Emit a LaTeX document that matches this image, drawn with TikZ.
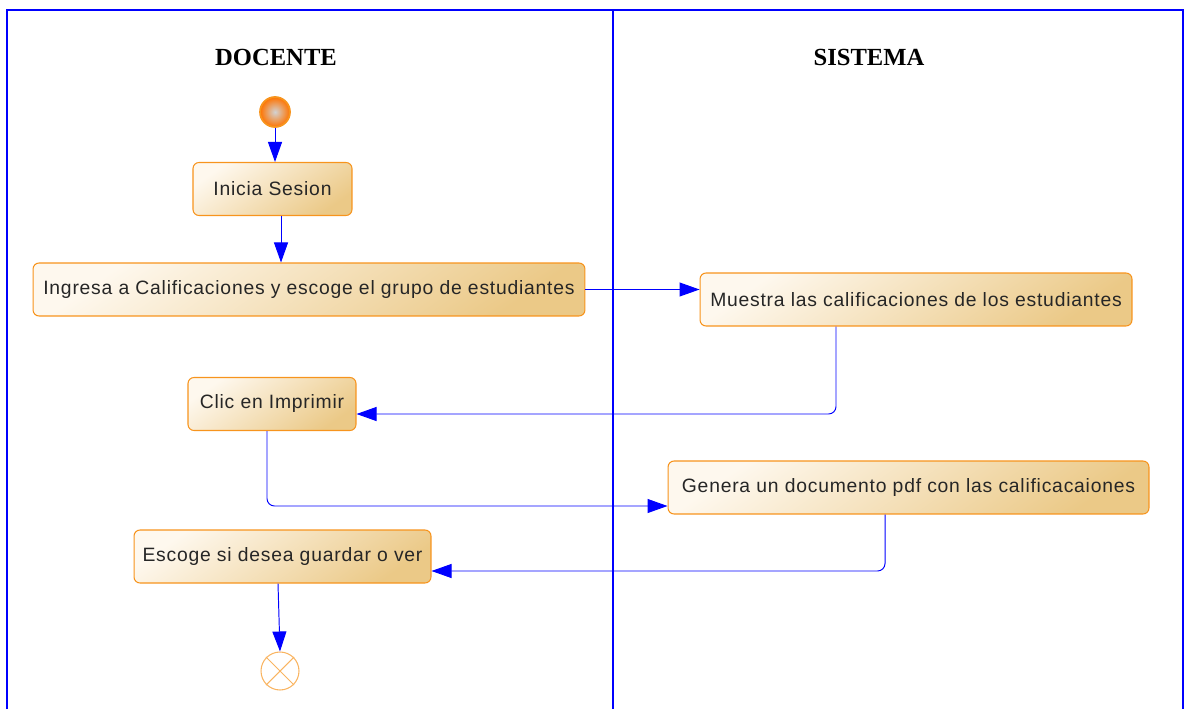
\documentclass[tikz,border=0pt]{standalone}
\usepackage{fontspec}
\setmainfont{Liberation Sans}
\newfontfamily\titlefont{Liberation Serif}
\newfontfamily\actfont[LetterSpace=4]{Liberation Sans}
\usepackage{xcolor}
\usetikzlibrary{arrows.meta,calc,shapes.misc}
\definecolor{laneblue}{HTML}{0000FF}
\definecolor{actborder}{HTML}{F7941D}
\definecolor{actlight}{HTML}{FEF8EE}
\definecolor{actdark}{HTML}{EBC987}

\begin{document}
\begin{tikzpicture}[
    x=0.02cm, y=-0.02cm,
    act/.style={rectangle, rounded corners=0.12cm, draw=actborder, line width=0.6pt,
        top color=actlight, bottom color=actdark, shading angle=35, text=black!85,
        font=\actfont\fontsize{11}{13}\selectfont, minimum height=1.06cm, inner sep=3pt},
    lane/.style={draw=laneblue, line width=0.6pt},
    flow/.style={draw=laneblue, line width=0.55pt, rounded corners=0.15cm,
        -{Triangle[length=0.4cm, width=0.28cm]}},
    title/.style={font=\titlefont\fontsize{14}{16}\selectfont\bfseries}
]
\useasboundingbox (0,0) rectangle (1185,709);

% swimlanes
\draw[lane] (7,709) -- (7,10) -- (1183,10) -- (1183,709);
\draw[lane] (613,10) -- (613,709);
\node[title] (docente) at (276,57) {DOCENTE};
\node[title] (sistema) at (869,57) {SISTEMA};

% start and end
\node[circle, draw=actborder, line width=1pt, inner color=gray!35, outer color=orange!90!red,
    minimum size=0.6cm, inner sep=0pt] (start) at (275,112) {};
\node[circle, cross out, draw=actborder!70, line width=0.6pt, minimum size=0.54cm, inner sep=0pt] (stopx) at (280,671) {};
\node[circle, draw=actborder!70, line width=0.6pt, minimum size=0.76cm, inner sep=0pt] (stop) at (280,671) {};

% activities
\node[act, minimum width=3.18cm] (inicia) at (272.5,189) {Inicia Sesion};
\node[act, minimum width=11.04cm] (ingresa) at (309,289.5) {Ingresa a Calificaciones y escoge el grupo de estudiantes};
\node[act, minimum width=8.64cm] (muestra) at (916,299.5) {Muestra las calificaciones de los estudiantes};
\node[act, minimum width=3.36cm] (clic) at (272,404) {Clic en Imprimir};
\node[act, minimum width=9.62cm] (genera) at (908.5,487.5) {Genera un documento pdf con las calificacaiones};
\node[act, minimum width=5.94cm] (escoge) at (282.5,556.5) {Escoge si desea guardar o ver};

% connector ends
\coordinate (iniciaout) at ($(inicia.south)+(8.5,0)$);
\coordinate (muestraout) at ($(muestra.south)+(-80,0)$);
\coordinate (clicin) at ($(clic.east)+(0,10)$);
\coordinate (clicout) at ($(clic.south)+(-5,0)$);
\coordinate (generain) at ($(genera.west)+(0,18.5)$);
\coordinate (generaout) at ($(genera.south)+(-23.5,0)$);
\coordinate (escogein) at ($(escoge.east)+(0,14.5)$);
\coordinate (escogeout) at ($(escoge.south)+(-4.5,0)$);

% connectors
\draw[flow] (start) -- (start |- inicia.north);
\draw[flow] (iniciaout) -- (iniciaout |- ingresa.north);
\draw[flow] (ingresa.east) -- (muestra.west |- ingresa.east);
\draw[flow] (muestraout) |- (clicin);
\draw[flow] (clicout) |- (generain);
\draw[flow] (generaout) |- (escogein);
\draw[flow] (escogeout) -- (stop.north);
\end{tikzpicture}
\end{document}
